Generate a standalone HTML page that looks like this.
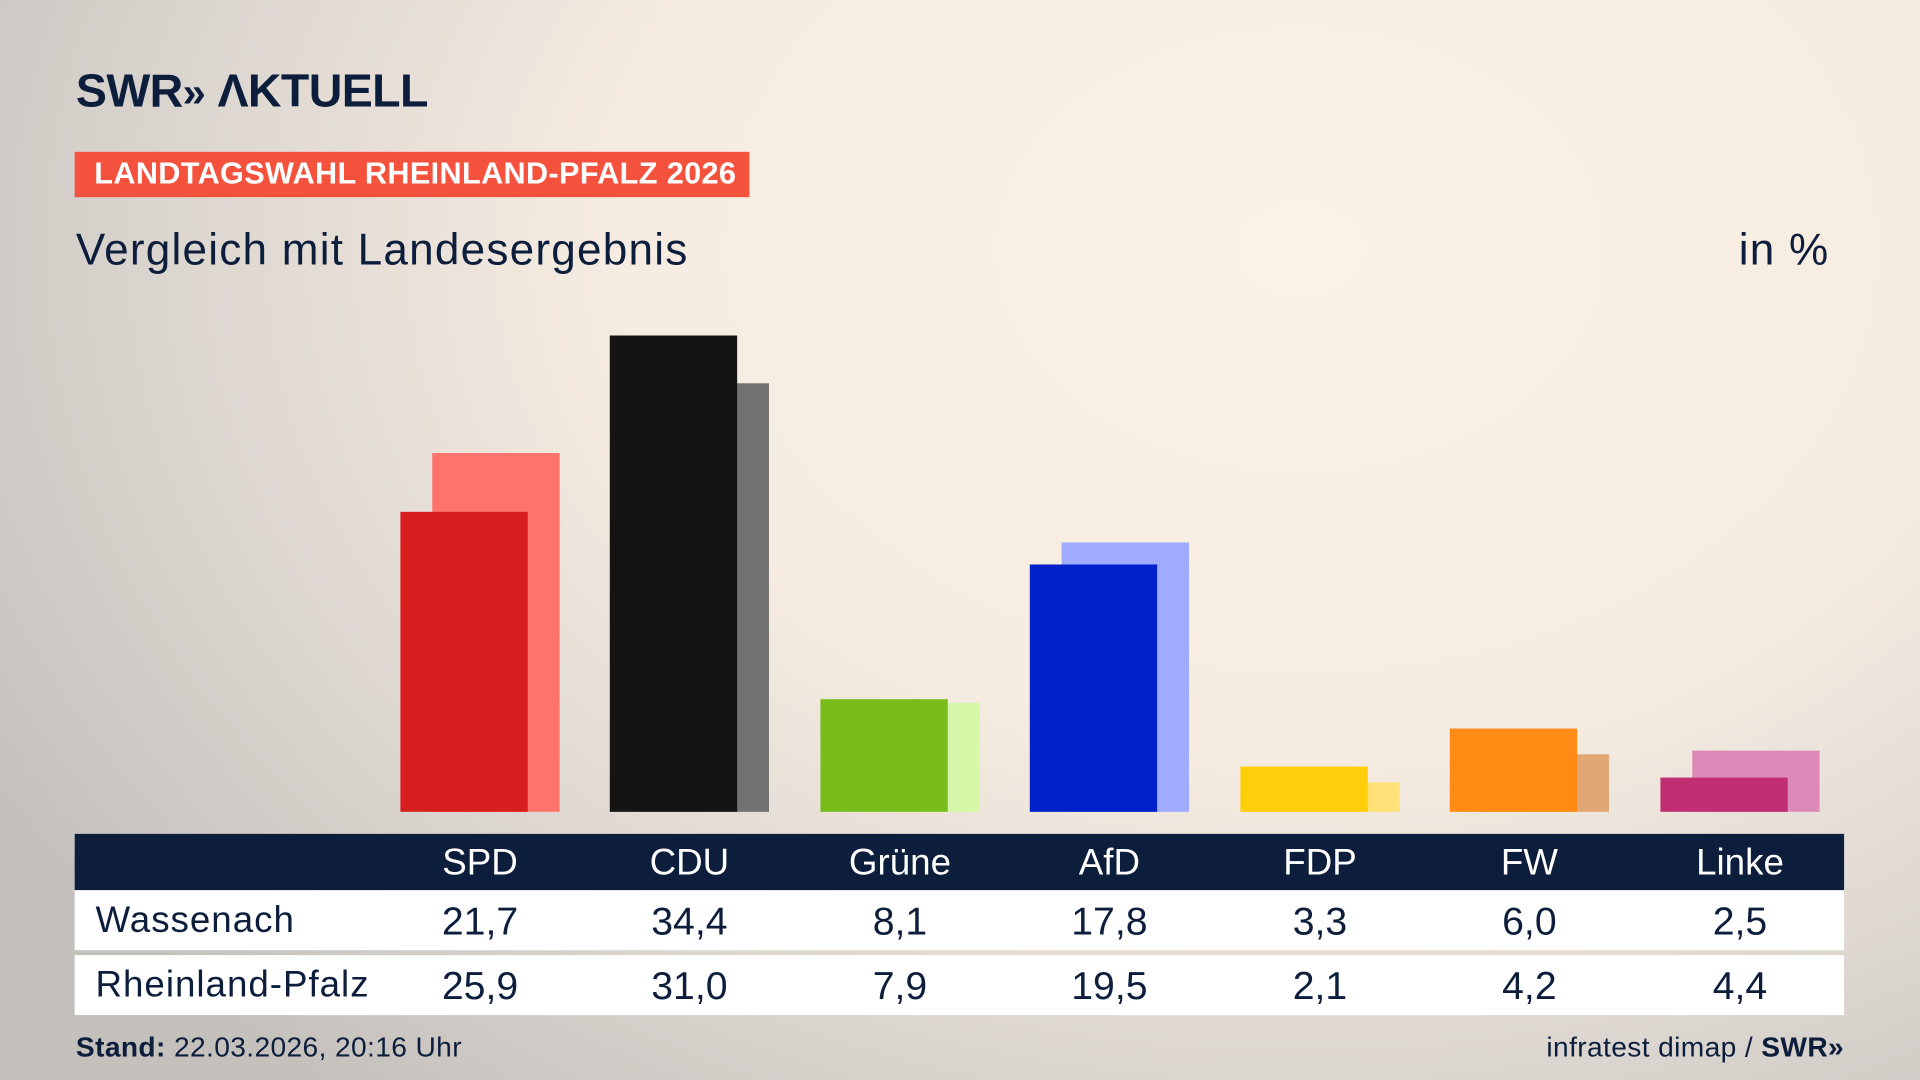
<!DOCTYPE html>
<html><head><meta charset="utf-8"><style>
html,body{margin:0;padding:0;width:1920px;height:1080px;overflow:hidden}
body{background:radial-gradient(ellipse 1500px 1100px at 1300px 250px,#faf2e7 0%,#f6ece1 45%,#dcd6d0 75%,#c4c0bc 100%);font-family:"Liberation Sans",sans-serif}
#c{position:absolute;left:0;top:0;width:1568px;height:882px;transform:scale(1.22449);transform-origin:0 0}
.a{position:absolute}
.bar{position:absolute}
.h{position:absolute;top:681px;left:61px;width:1445px;height:46px;background:#0d1e3c}
.r{position:absolute;left:61px;width:1445px;height:49px;background:#fff}
.t{position:absolute;width:120px;text-align:center;font-size:30px}
</style></head><body><div id="c">
<div class="a" style="left:62px;top:54px;font-size:38px;font-weight:bold;color:#0d1e3c;letter-spacing:-0.5px">SWR<span style="font-size:34px">»</span> ΛKTUELL</div>
<div class="a" style="left:61px;top:124px;width:551px;height:37px;background:#f5523e;color:#fff;font-weight:bold;font-size:25px;line-height:37px;padding-left:16px;box-sizing:border-box;letter-spacing:0.3px">LANDTAGSWAHL RHEINLAND-PFALZ 2026</div>
<div class="a" style="left:62px;top:183px;font-size:36px;color:#0d1e3c;letter-spacing:1px">Vergleich mit Landesergebnis</div>
<div class="a" style="left:1420px;top:183px;font-size:36px;color:#0d1e3c;letter-spacing:1px">in %</div>

<div class="bar" style="left:353px;top:370px;width:104px;height:293px;background:#ff736b"></div>
<div class="bar" style="left:327px;top:418px;width:104px;height:245px;background:#d71f1f"></div>
<div class="bar" style="left:524px;top:313px;width:104px;height:350px;background:#727270"></div>
<div class="bar" style="left:498px;top:274px;width:104px;height:389px;background:#141414"></div>
<div class="bar" style="left:696px;top:574px;width:104px;height:89px;background:#d6f7a8"></div>
<div class="bar" style="left:670px;top:571px;width:104px;height:92px;background:#78bd1c"></div>
<div class="bar" style="left:867px;top:443px;width:104px;height:220px;background:#9eabff"></div>
<div class="bar" style="left:841px;top:461px;width:104px;height:202px;background:#0021c9"></div>
<div class="bar" style="left:1039px;top:639px;width:104px;height:24px;background:#ffe177"></div>
<div class="bar" style="left:1013px;top:626px;width:104px;height:37px;background:#ffce0a"></div>
<div class="bar" style="left:1210px;top:616px;width:104px;height:47px;background:#e0a673"></div>
<div class="bar" style="left:1184px;top:595px;width:104px;height:68px;background:#ff8b14"></div>
<div class="bar" style="left:1382px;top:613px;width:104px;height:50px;background:#de8ab8"></div>
<div class="bar" style="left:1356px;top:635px;width:104px;height:28px;background:#bf2f71"></div>

<div class="h"></div>
<div class="r" style="top:727px"></div>
<div class="r" style="top:780px"></div>
<div class="a" style="left:78px;top:735px;font-size:30px;color:#0d1e3c;letter-spacing:0.8px">Wassenach</div>
<div class="a" style="left:78px;top:788px;font-size:30px;color:#0d1e3c;letter-spacing:0.8px">Rheinland-Pfalz</div>
<div style="color:#fff">
<div class="t" style="left:332px;top:688px">SPD</div><div class="t" style="left:503px;top:688px">CDU</div><div class="t" style="left:675px;top:688px">Grüne</div><div class="t" style="left:846px;top:688px">AfD</div><div class="t" style="left:1018px;top:688px">FDP</div><div class="t" style="left:1189px;top:688px">FW</div><div class="t" style="left:1361px;top:688px">Linke</div>
</div>
<div style="color:#0d1e3c">
<div class="t" style="left:332px;top:734px;font-size:32px">21,7</div><div class="t" style="left:503px;top:734px;font-size:32px">34,4</div><div class="t" style="left:675px;top:734px;font-size:32px">8,1</div><div class="t" style="left:846px;top:734px;font-size:32px">17,8</div><div class="t" style="left:1018px;top:734px;font-size:32px">3,3</div><div class="t" style="left:1189px;top:734px;font-size:32px">6,0</div><div class="t" style="left:1361px;top:734px;font-size:32px">2,5</div>
<div class="t" style="left:332px;top:787px;font-size:32px">25,9</div><div class="t" style="left:503px;top:787px;font-size:32px">31,0</div><div class="t" style="left:675px;top:787px;font-size:32px">7,9</div><div class="t" style="left:846px;top:787px;font-size:32px">19,5</div><div class="t" style="left:1018px;top:787px;font-size:32px">2,1</div><div class="t" style="left:1189px;top:787px;font-size:32px">4,2</div><div class="t" style="left:1361px;top:787px;font-size:32px">4,4</div>
</div>
<div class="a" style="left:62px;top:842px;font-size:23px;color:#0d1e3c;letter-spacing:0.3px"><b>Stand:</b> 22.03.2026, 20:16 Uhr</div>
<div class="a" style="right:62px;top:842px;font-size:23px;color:#0d1e3c;letter-spacing:0.3px">infratest dimap / <b>SWR»</b></div>
</div></body></html>
